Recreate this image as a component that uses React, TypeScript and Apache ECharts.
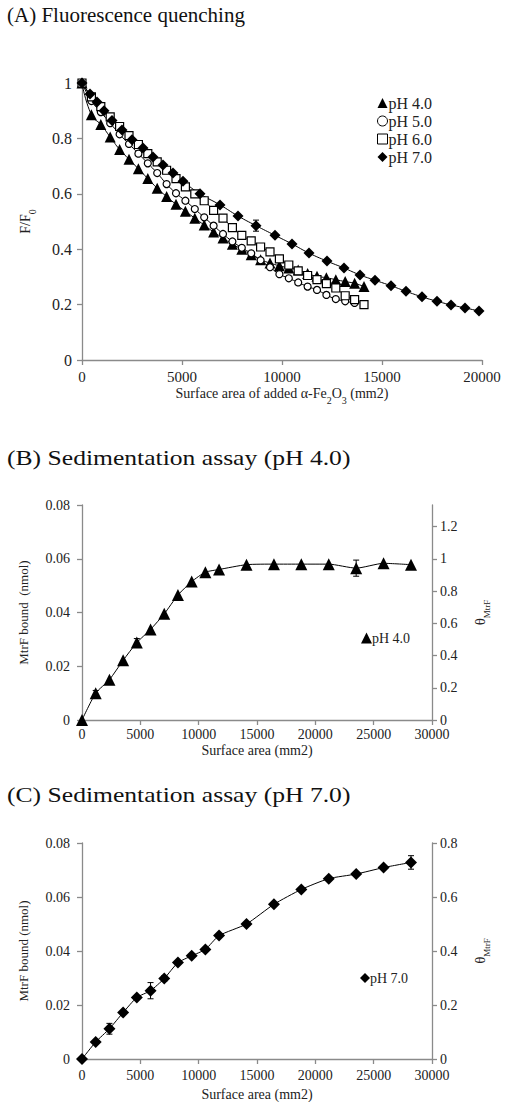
import React, { useEffect, useRef } from 'react';
import * as echarts from 'echarts';

const FONT = 'Liberation Serif';
const AXIS_GRAY = '#8a8a8a';
const TEXT = '#222';

// ---------- Panel A : fluorescence quenching ----------
const ph4X = [0, 470, 940, 1410, 1880, 2350, 2820, 3290, 3760, 4230, 4700, 5170, 5640, 6110, 6580, 7050, 7520, 7990, 8460, 8930, 9400, 9870, 10340, 10810, 11280, 11750, 12220, 12690, 13160, 13630, 14100];
const ph4Y = [1.0, 0.885, 0.85, 0.805, 0.76, 0.725, 0.69, 0.655, 0.62, 0.59, 0.562, 0.537, 0.512, 0.487, 0.462, 0.44, 0.418, 0.4, 0.38, 0.362, 0.35, 0.34, 0.332, 0.325, 0.312, 0.302, 0.297, 0.29, 0.283, 0.277, 0.265];

const ph5X = [0, 470, 940, 1410, 1880, 2350, 2820, 3290, 3760, 4230, 4700, 5170, 5640, 6110, 6580, 7050, 7520, 7990, 8460, 8930, 9400, 9870, 10340, 10810, 11280, 11750, 12220, 12690, 13160, 13630];
const ph5Y = [1.0, 0.935, 0.895, 0.855, 0.815, 0.78, 0.745, 0.71, 0.675, 0.635, 0.602, 0.575, 0.545, 0.515, 0.485, 0.455, 0.428, 0.405, 0.385, 0.36, 0.335, 0.31, 0.295, 0.28, 0.265, 0.253, 0.235, 0.22, 0.212, 0.206];

const ph6X = [0, 470, 940, 1410, 1880, 2350, 2820, 3290, 3760, 4230, 4700, 5170, 5640, 6110, 6580, 7050, 7520, 7990, 8460, 8930, 9400, 9870, 10340, 10810, 11280, 11750, 12220, 12690, 13160, 13630, 14100];
const ph6Y = [1.0, 0.95, 0.915, 0.878, 0.843, 0.81, 0.778, 0.745, 0.715, 0.685, 0.655, 0.625, 0.6, 0.575, 0.54, 0.512, 0.478, 0.45, 0.43, 0.408, 0.39, 0.365, 0.343, 0.322, 0.305, 0.29, 0.276, 0.26, 0.232, 0.218, 0.2];

const ph7X = [0, 400, 750, 1100, 1500, 2000, 2500, 3050, 3550, 4050, 4550, 5050, 5900, 6900, 7800, 8700, 9650, 10500, 11350, 12250, 13100, 13900, 14650, 15450, 16200, 17000, 17750, 18450, 19150, 19850];
const ph7Y = [1.0, 0.96, 0.931, 0.9, 0.865, 0.83, 0.795, 0.765, 0.733, 0.704, 0.675, 0.645, 0.6, 0.56, 0.52, 0.485, 0.45, 0.419, 0.386, 0.357, 0.332, 0.307, 0.288, 0.268, 0.248, 0.228, 0.212, 0.199, 0.188, 0.177];

// error bars A: [x, mean, sd]
const errA = [[8700, 0.485, 0.02]];

// ---------- Panels B and C : sedimentation ----------
const sedX = [0, 1175, 2350, 3525, 4700, 5875, 7050, 8225, 9400, 10575, 11750, 14100, 16450, 18800, 21150, 23500, 25850, 28200];
const sedB = [0, 0.01, 0.015, 0.0222, 0.0288, 0.0337, 0.0395, 0.0465, 0.0515, 0.055, 0.056, 0.0578, 0.058, 0.058, 0.058, 0.0565, 0.0583, 0.0578];
const sedC = [0, 0.0063, 0.0112, 0.0172, 0.0228, 0.0253, 0.0298, 0.0357, 0.0382, 0.0406, 0.0457, 0.05, 0.0573, 0.0628, 0.0668, 0.0685, 0.0709, 0.0728];
const errB = [[1175, 0.01, 0.001], [4700, 0.0288, 0.0015], [23500, 0.0565, 0.003]];
const errC = [[2350, 0.0112, 0.002], [5875, 0.0253, 0.003], [7050, 0.0298, 0.001], [28200, 0.0728, 0.0025]];

const xTicksA = { min: 0, max: 20000, interval: 5000 };
const xTicksBC = { min: 0, max: 30000, interval: 5000 };
const yTicksA = { min: 0, max: 1, interval: 0.2 };
const yTicksBC = { min: 0, max: 0.08, interval: 0.02 };
const thetaB = { min: 0, max: 4 / 3, interval: 0.2 };
const thetaC = { min: 0, max: 0.8, interval: 0.2 };

const zip = (xs: number[], ys: number[]) => xs.map((x, i) => [x, ys[i]]);
const errData = (e: number[][]) => e.map(([x, m, s]) => [x, m - s, m + s]);

const sub = { fontSize: 10, lineHeight: 10, verticalAlign: 'top', padding: [9, 0, 0, 0], fontFamily: FONT, color: TEXT };

function axisBase(fontSize: number, margin: number) {
  return {
    type: 'value',
    splitLine: { show: false },
    axisLine: { show: true, onZero: false, lineStyle: { color: AXIS_GRAY, width: 1.3 } },
    axisTick: { show: true, inside: false, length: 5, lineStyle: { color: AXIS_GRAY, width: 1.3 } },
    axisLabel: { fontFamily: FONT, fontSize, color: TEXT, margin, formatter: (v: number) => String(+v.toFixed(4)) },
  };
}

const errRender = (params: any, api: any) => {
  const x = api.value(0);
  const p1 = api.coord([x, api.value(1)]);
  const p2 = api.coord([x, api.value(2)]);
  const w = 3;
  const st = { stroke: '#000', lineWidth: 1 };
  return {
    type: 'group',
    children: [
      { type: 'line', shape: { x1: p1[0], y1: p1[1], x2: p2[0], y2: p2[1] }, style: st },
      { type: 'line', shape: { x1: p1[0] - w, y1: p1[1], x2: p1[0] + w, y2: p1[1] }, style: st },
      { type: 'line', shape: { x1: p2[0] - w, y1: p2[1], x2: p2[0] + w, y2: p2[1] }, style: st },
    ],
  };
};

function lineSeries(name: string, data: number[][], xi: number, yi: number, symbol: string, size: number, open: boolean, smooth: number | boolean) {
  return {
    type: 'line',
    name,
    xAxisIndex: xi,
    yAxisIndex: yi,
    data,
    smooth,
    symbol,
    symbolSize: size,
    showAllSymbol: true,
    lineStyle: { color: '#000', width: 1 },
    itemStyle: open ? { color: '#fff', borderColor: '#000', borderWidth: 1.2 } : { color: '#000', borderColor: '#000', borderWidth: 0 },
    emphasis: { disabled: true },
    z: 3,
  };
}

function errSeries(data: number[][], xi: number, yi: number) {
  return {
    type: 'custom',
    xAxisIndex: xi,
    yAxisIndex: yi,
    data: errData(data),
    renderItem: errRender,
    z: 2,
    silent: true,
  };
}

const titleText = (text: string, x: number, y: number, sx: number) => ({
  type: 'text',
  x,
  y,
  scaleX: sx,
  style: { text, fontFamily: FONT, fontSize: 21, fill: '#111', align: 'left', verticalAlign: 'top' },
});

const option: any = {
  animation: false,
  backgroundColor: '#fff',
  graphic: [
    titleText('(A) Fluorescence quenching', 7, 4, 1.0),
    titleText('(B) Sedimentation assay (pH 4.0)', 7, 447, 1.22),
    titleText('(C) Sedimentation assay (pH 7.0)', 7, 784, 1.22),
  ],
  grid: [
    { left: 82, top: 83, width: 400, height: 277 },
    { left: 82, top: 505, width: 350, height: 215 },
    { left: 82, top: 843, width: 350, height: 218 },
  ],
  xAxis: [
    {
      ...axisBase(15, 9), gridIndex: 0, ...xTicksA,
      name: '{n|Surface area of added α-Fe}{s|2}{n|O}{s|3}{n| (mm2)}',
      nameLocation: 'middle', nameGap: 26,
      nameTextStyle: { rich: { n: { fontSize: 14, lineHeight: 14, verticalAlign: 'top', fontFamily: FONT, color: TEXT }, s: sub } },
    },
    {
      ...axisBase(14, 7), gridIndex: 1, ...xTicksBC,
      name: 'Surface area (mm2)', nameLocation: 'middle', nameGap: 23,
      nameTextStyle: { fontFamily: FONT, fontSize: 14, color: TEXT },
    },
    {
      ...axisBase(14, 9), gridIndex: 2, ...xTicksBC,
      name: 'Surface area (mm2)', nameLocation: 'middle', nameGap: 28,
      nameTextStyle: { fontFamily: FONT, fontSize: 14, color: TEXT },
    },
  ],
  yAxis: [
    {
      ...axisBase(16, 10), gridIndex: 0, ...yTicksA,
      name: '{n|F/F}{s|0}', nameLocation: 'middle', nameGap: 50, nameRotate: 90,
      nameTextStyle: { rich: { n: { fontSize: 14, lineHeight: 14, verticalAlign: 'top', fontFamily: FONT, color: TEXT }, s: sub } },
    },
    {
      ...axisBase(14, 12), gridIndex: 1, ...yTicksBC, position: 'left',
      name: 'MtrF bound  (nmol)', nameLocation: 'middle', nameGap: 52, nameRotate: 90,
      nameTextStyle: { fontFamily: FONT, fontSize: 13, color: TEXT },
    },
    {
      ...axisBase(14, 8), gridIndex: 1, ...thetaB, position: 'right',
      axisLabel: { ...axisBase(14, 8).axisLabel, showMaxLabel: false },
      name: '{n|θ}{s|MtrF}', nameLocation: 'middle', nameGap: 40, nameRotate: 90,
      nameTextStyle: { rich: { n: { fontSize: 15, lineHeight: 15, verticalAlign: 'top', fontFamily: FONT, color: TEXT }, s: { ...sub, fontSize: 9, padding: [10, 0, 0, 0] } } },
    },
    {
      ...axisBase(14, 12), gridIndex: 2, ...yTicksBC, position: 'left',
      name: 'MtrF bound (nmol)', nameLocation: 'middle', nameGap: 52, nameRotate: 90,
      nameTextStyle: { fontFamily: FONT, fontSize: 13, color: TEXT },
    },
    {
      ...axisBase(14, 8), gridIndex: 2, ...thetaC, position: 'right',
      name: '{n|θ}{s|MtrF}', nameLocation: 'middle', nameGap: 40, nameRotate: 90,
      nameTextStyle: { rich: { n: { fontSize: 15, lineHeight: 15, verticalAlign: 'top', fontFamily: FONT, color: TEXT }, s: { ...sub, fontSize: 9, padding: [10, 0, 0, 0] } } },
    },
  ],
  legend: [
    {
      left: 372, top: 90, orient: 'vertical', itemGap: 2, itemWidth: 10, itemHeight: 10,
      selectedMode: false,
      textStyle: { fontFamily: FONT, fontSize: 16, color: TEXT, padding: [0, 0, 0, -4] },
      data: [
        { name: 'pH 4.0', icon: 'triangle', itemStyle: { color: '#000', borderWidth: 0 } },
        { name: 'pH 5.0', icon: 'circle', itemStyle: { color: '#fff', borderColor: '#000', borderWidth: 1 } },
        { name: 'pH 6.0', icon: 'rect', itemStyle: { color: '#fff', borderColor: '#000', borderWidth: 1 } },
        { name: 'pH 7.0', icon: 'diamond', itemStyle: { color: '#000', borderWidth: 0 } },
      ],
    },
    {
      left: 356, top: 626, itemWidth: 11, itemHeight: 11, selectedMode: false,
      textStyle: { fontFamily: FONT, fontSize: 14, color: TEXT, padding: [0, 0, 0, -5] },
      data: [{ name: 'pH 4.0 ', icon: 'triangle', itemStyle: { color: '#000', borderWidth: 0 } }],
    },
    {
      left: 355, top: 966, itemWidth: 10, itemHeight: 10, selectedMode: false,
      textStyle: { fontFamily: FONT, fontSize: 14, color: TEXT, padding: [0, 0, 0, -5] },
      data: [{ name: 'pH 7.0 ', icon: 'diamond', itemStyle: { color: '#000', borderWidth: 0 } }],
    },
  ],
  series: [
    errSeries(errA, 0, 0),
    lineSeries('pH 4.0', zip(ph4X, ph4Y), 0, 0, 'triangle', 11, false, true),
    lineSeries('pH 5.0', zip(ph5X, ph5Y), 0, 0, 'circle', 7, true, true),
    lineSeries('pH 6.0', zip(ph6X, ph6Y), 0, 0, 'rect', 8, true, true),
    lineSeries('pH 7.0', zip(ph7X, ph7Y), 0, 0, 'diamond', 11, false, true),
    errSeries(errB, 1, 1),
    lineSeries('pH 4.0 ', zip(sedX, sedB), 1, 1, 'triangle', 12, false, 0.2),
    errSeries(errC, 2, 3),
    lineSeries('pH 7.0 ', zip(sedX, sedC), 2, 3, 'diamond', 12, false, 0.2),
  ],
};

export default function App() {
  const ref = useRef<HTMLDivElement>(null);
  useEffect(() => {
    document.body.style.margin = '0';
    const chart = echarts.init(ref.current as HTMLDivElement, null, { renderer: 'svg' });
    chart.setOption(option);
    return () => chart.dispose();
  }, []);
  return <div ref={ref} style={{ width: 506, height: 1102, background: '#fff' }} />;
}
